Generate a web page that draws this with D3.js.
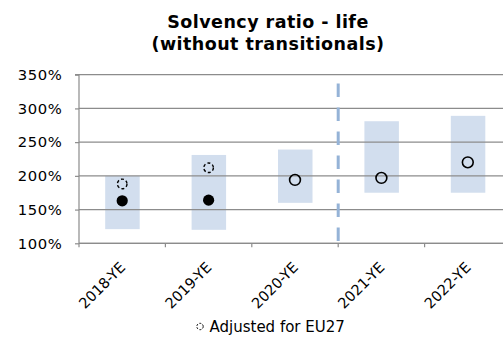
<!DOCTYPE html>
<html>
<head>
<meta charset="utf-8">
<script src="https://cdn.jsdelivr.net/npm/d3@7"></script>
<style>
  html, body { margin: 0; padding: 0; background: #fff; }
  svg { display: block; font-family: "DejaVu Sans", Verdana, sans-serif; }
</style>
</head>
<body>
<svg id="chart" width="503" height="338"></svg>
<script>
// Year-end periods
const categories = ["2018-YE", "2019-YE", "2020-YE", "2021-YE", "2022-YE"];
// Interquartile range of the solvency ratio (%)
const rangeLow  = [121, 120, 160, 175, 175];
const rangeHigh = [200, 231, 239, 281, 289];
// Median solvency ratio (%) — filled before EU27 adjustment, open afterwards
const median      = [163, 164, 194, 197, 220];
const medianKind  = ["filled", "filled", "open", "open", "open"];
// Median adjusted for EU27 (%), only for the earlier periods
const adjustedEU27 = [188, 212, null, null, null];
const yTicks = [100, 150, 200, 250, 300, 350];

const svg = d3.select("#chart");
const margin = { left: 79, top: 74.7, bottom: 94.7 };
const plotW = 86.4 * categories.length;
const plotBottom = 338 - margin.bottom;

const x = d3.scaleBand().domain(categories).range([margin.left, margin.left + plotW]).paddingInner(0.6).paddingOuter(0.3);
const xTickScale = d3.scaleLinear().domain([0, categories.length]).range([margin.left, margin.left + plotW]);
const y = d3.scaleLinear().domain([100, 350]).range([plotBottom, margin.top]);

// Title
const title = svg.append("text")
  .attr("x", 268).attr("y", 27.5)
  .attr("text-anchor", "middle")
  .style("font-weight", "bold").style("font-size", "17.5px")
  .style("letter-spacing", "0.45px").attr("fill", "#000");
title.append("tspan").attr("x", 268).text("Solvency ratio - life");
title.append("tspan").attr("x", 268).attr("dy", 22.5).text("(without transitionals)");

// Range bars
svg.append("g").selectAll("rect")
  .data(categories)
  .join("rect")
  .attr("x", d => x(d) + x.bandwidth() / 2 - 17)
  .attr("width", 34.5)
  .attr("y", (d, i) => y(rangeHigh[i]))
  .attr("height", (d, i) => y(rangeLow[i]) - y(rangeHigh[i]))
  .attr("fill", "#d2deee");

// Gridlines drawn over the bars
svg.append("g").selectAll("line")
  .data(yTicks)
  .join("line")
  .attr("x1", margin.left).attr("x2", 503)
  .attr("y1", d => y(d)).attr("y2", d => y(d))
  .attr("stroke", "#8c8c8c").attr("stroke-width", 1.2);

// Y axis
const yAxis = svg.append("g")
  .attr("transform", `translate(${margin.left},0)`)
  .call(d3.axisLeft(y).tickValues(yTicks).tickFormat(d => d + "%").tickSize(4).tickPadding(12.5));
yAxis.select(".domain").attr("stroke", "#8c8c8c").attr("stroke-width", 1.2).attr("d", `M-4,${y(350)}H0V${plotBottom}`);
yAxis.selectAll(".tick line").attr("stroke", "#8c8c8c").attr("stroke-width", 1.2);
yAxis.selectAll(".tick text").style("font-size", "14.8px").style("letter-spacing", "0.6px").attr("fill", "#000")
  .style("font-family", "DejaVu Sans, Verdana, sans-serif");

// X axis baseline and boundary ticks
const xAxis = svg.append("g");
xAxis.append("line")
  .attr("x1", margin.left).attr("x2", 503)
  .attr("y1", plotBottom).attr("y2", plotBottom)
  .attr("stroke", "#8c8c8c").attr("stroke-width", 1.2);
xAxis.selectAll("line.tk")
  .data(d3.range(categories.length + 1))
  .join("line")
  .attr("class", "tk")
  .attr("x1", i => xTickScale(i)).attr("x2", i => xTickScale(i))
  .attr("y1", plotBottom).attr("y2", plotBottom + 4)
  .attr("stroke", "#8c8c8c").attr("stroke-width", 1.2);

// Rotated category labels
xAxis.selectAll("text")
  .data(categories)
  .join("text")
  .attr("text-anchor", "end")
  .attr("transform", d => `translate(${x(d) + x.bandwidth() / 2 + 4},${plotBottom + 25}) rotate(-45)`)
  .style("font-size", "14.5px").attr("fill", "#000")
  .text(d => d);

// Dashed separator between 2020 and 2021
const sepX = xTickScale(3);
svg.append("line")
  .attr("x1", sepX).attr("x2", sepX)
  .attr("y1", 83.5).attr("y2", plotBottom)
  .attr("stroke", "#95b3d7").attr("stroke-width", 3)
  .attr("stroke-dasharray", "13.5,10.5");

// Median markers
const cx = d => x(d) + x.bandwidth() / 2;
svg.append("g").selectAll("circle")
  .data(categories)
  .join("circle")
  .attr("cx", cx)
  .attr("cy", (d, i) => y(median[i]))
  .attr("r", (d, i) => medianKind[i] === "filled" ? 5.6 : 5.4)
  .attr("fill", (d, i) => medianKind[i] === "filled" ? "#000" : "none")
  .attr("stroke", "#000")
  .attr("stroke-width", (d, i) => medianKind[i] === "filled" ? 0 : 1.6);

// EU27-adjusted markers
svg.append("g").selectAll("circle")
  .data(categories.filter((d, i) => adjustedEU27[i] != null))
  .join("circle")
  .attr("cx", cx)
  .attr("cy", d => y(adjustedEU27[categories.indexOf(d)]))
  .attr("r", 4.8)
  .attr("fill", "none")
  .attr("stroke", "#000").attr("stroke-width", 1.4)
  .attr("stroke-dasharray", "3,2.2");

// Legend
const legend = svg.append("g");
legend.append("circle")
  .attr("cx", 200).attr("cy", 326.5).attr("r", 3.2)
  .attr("fill", "none").attr("stroke", "#000").attr("stroke-width", 1)
  .attr("stroke-dasharray", "2,1.5");
legend.append("text")
  .attr("x", 209.5).attr("y", 331.5)
  .style("font-size", "15px").attr("fill", "#000")
  .text("Adjusted for EU27");
</script>
</body>
</html>
